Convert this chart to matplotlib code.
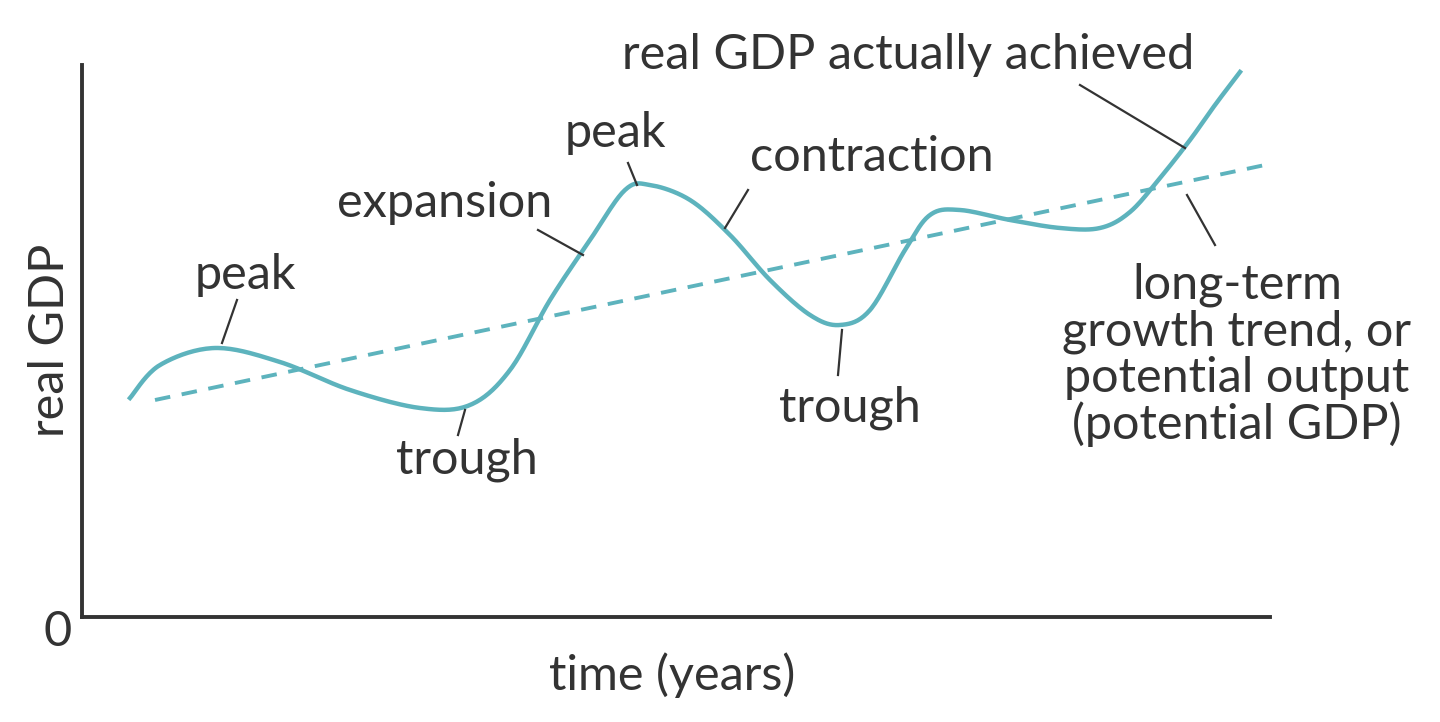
import numpy as np
import matplotlib
matplotlib.use("Agg")
import matplotlib.pyplot as plt

# actual real GDP curve (x, height above axis)
gdp_x = [130,160,215,280,350,420,470,510,550,590,625,650,690,730,770,810,840,870,905,930,960,1010,1060,1100,1130,1160,1190,1215,1240]
gdp_py = [398,365,348,362,390,408,405,370,300,240,190,185,200,235,280,315,325,310,250,215,210,220,228,228,212,178,140,105,72]
trend_x = [155, 1265]
trend_py = [400, 165]
BASE = 617

def catmull(xs, ys, n=20):
    P = np.array(list(zip(xs, ys)), float)
    P = np.vstack([P[0], P, P[-1]])
    out = []
    for i in range(1, len(P) - 2):
        p0, p1, p2, p3 = P[i-1], P[i], P[i+1], P[i+2]
        for t in np.linspace(0, 1, n, endpoint=False):
            out.append(0.5*((2*p1) + (-p0+p2)*t + (2*p0-5*p1+4*p2-p3)*t**2 + (-p0+3*p1-3*p2+p3)*t**3))
    out.append(P[-2])
    return np.array(out)

fig = plt.figure(figsize=(14.4, 7.22), dpi=100)
ax = fig.add_axes([82/1440, (722-617)/722, (1270-82)/1440, (617-65)/722])
ax.set_xlim(82, 1270); ax.set_ylim(0, 552)
for s in ["top", "right"]:
    ax.spines[s].set_visible(False)
for s in ["left", "bottom"]:
    ax.spines[s].set_linewidth(2.8); ax.spines[s].set_color("#333")
ax.set_xticks([]); ax.set_yticks([])

teal = "#5db3bd"
c = catmull(gdp_x, [BASE - v for v in gdp_py])
ax.plot(c[:, 0], c[:, 1], color=teal, lw=3.2)
ax.plot(trend_x, [BASE - v for v in trend_py], color=teal, lw=2.8, ls=(0, (4, 3)))

fp = dict(family="Lato", fontsize=35, color="#333", ha="center", va="center")
def Y(py): return BASE - py
labels = [("peak", 245, 275, (237,300), (222,343)),
          ("trough", 467, 460, (458,435), (465,410)),
          ("expansion", 445, 203, (538,230), (583,255)),
          ("peak", 615, 133, (628,163), (637,185)),
          ("contraction", 872, 157, (748,190), (725,228)),
          ("trough", 850, 408, (838,375), (842,330)),
          ("real GDP actually achieved", 908, 55, (1080,85), (1185,148))]
for t, x, y, a, b in labels:
    ax.text(x, Y(y), t, clip_on=False, **fp)
    ax.plot([a[0], b[0]], [Y(a[1]), Y(b[1])], color="#333", lw=1.6, clip_on=False)
ax.text(1237, Y(355), "long-term\ngrowth trend, or\npotential output\n(potential GDP)",
        linespacing=1.05, clip_on=False, **fp)
ax.plot([1215, 1187], [Y(245), Y(195)], color="#333", lw=1.6)

fig.text(50/1440, 1-340/722, "real GDP", rotation=90, **fp)
fig.text(58/1440, 1-632/722, "0", **fp)
fig.text(672/1440, 1-675/722, "time (years)", **fp)
fig.savefig("out.png", dpi=100, facecolor="white")
